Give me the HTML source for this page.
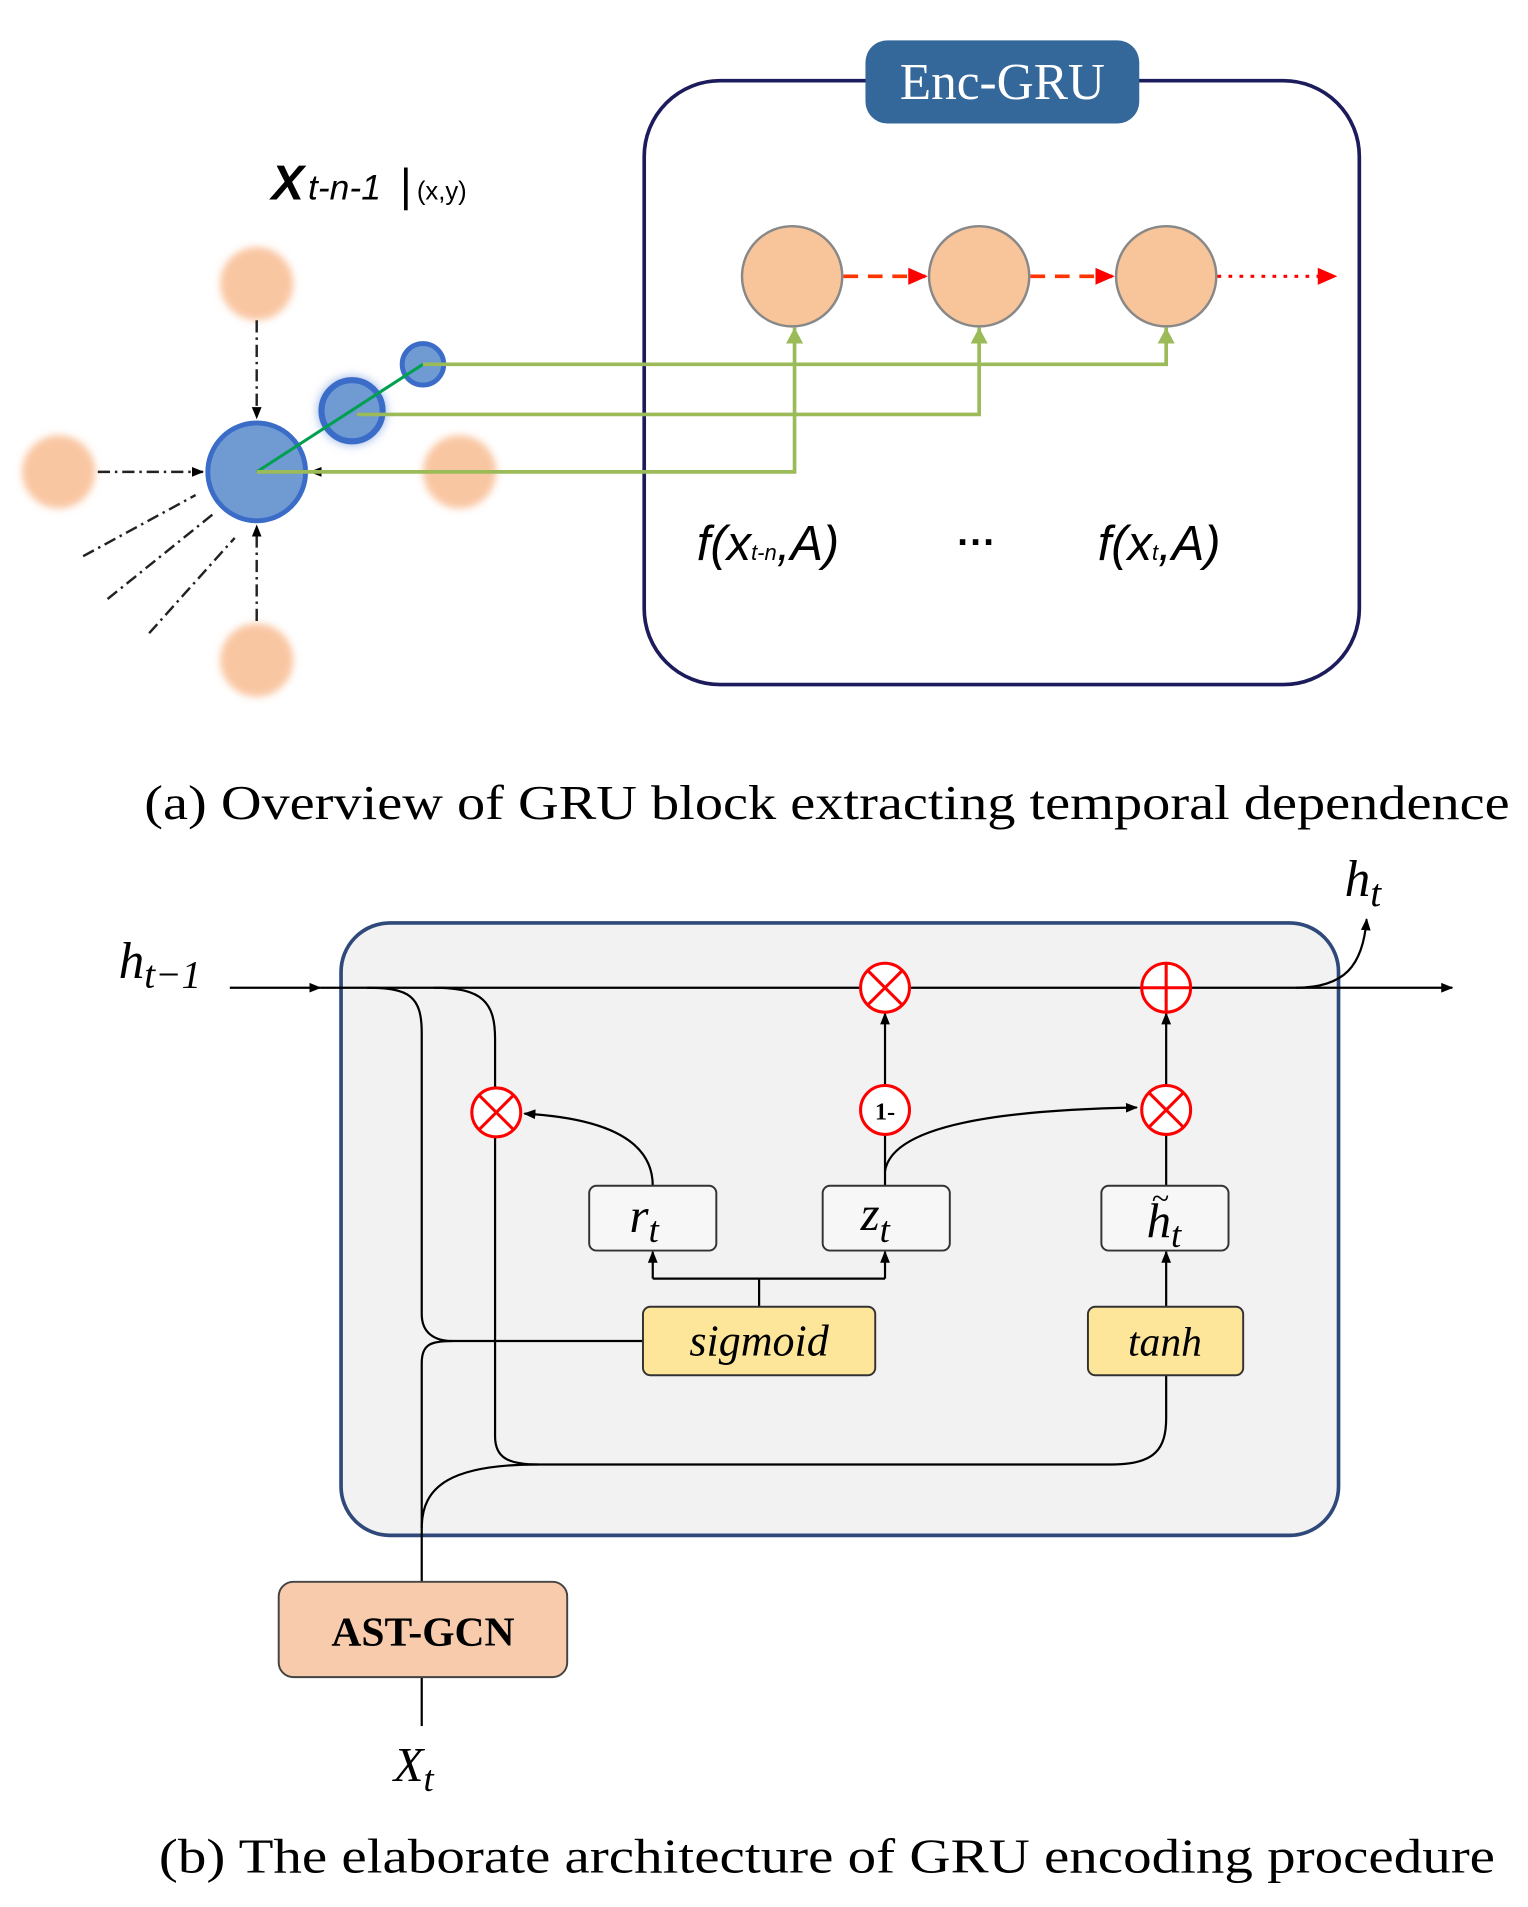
<!DOCTYPE html>
<html><head><meta charset="utf-8"><style>
html,body{margin:0;padding:0;background:#fff}
svg{display:block}
.ser{font-family:"Liberation Serif",serif}
.san{font-family:"Liberation Sans",sans-serif}
</style></head><body>
<svg width="1528" height="1907" viewBox="0 0 1250 1560" xmlns="http://www.w3.org/2000/svg">
<defs>
<filter id="bl" x="-50%" y="-50%" width="200%" height="200%"><feGaussianBlur stdDeviation="3"/></filter>
<filter id="bb" x="-50%" y="-50%" width="200%" height="200%"><feGaussianBlur stdDeviation="4"/></filter>
<marker id="ak" markerWidth="10" markerHeight="10" refX="9" refY="5" orient="auto" markerUnits="userSpaceOnUse"><path d="M0,1 L10,5 L0,9 Z" fill="#000"/></marker>
<marker id="ar" markerWidth="16" markerHeight="16" refX="14" refY="8" orient="auto" markerUnits="userSpaceOnUse"><path d="M0,1 L16,8 L0,15 Z" fill="#f00"/></marker>
<marker id="ag" markerWidth="14" markerHeight="14" refX="13" refY="7" orient="auto" markerUnits="userSpaceOnUse"><path d="M0,0 L13,7 L0,14 Z" fill="#9bbb59"/></marker>
</defs>
<!-- (a) -->
<rect x="527" y="66" width="585" height="494" rx="62" fill="none" stroke="#1c1c5c" stroke-width="3"/>
<rect x="708" y="33" width="224" height="68" rx="18" fill="#35689a"/>
<text x="820" y="81" text-anchor="middle" class="ser" font-size="42" fill="#fff">Enc-GRU</text>
<text x="222" y="163" class="san" font-style="italic" font-weight="bold" font-size="40">X</text>
<text x="252" y="163" class="san" font-style="italic" font-size="29">t-n-1</text>
<line x1="332" y1="137" x2="332" y2="172" stroke="#000" stroke-width="3"/>
<text x="341" y="163" class="san" font-size="21">(x,y)</text>

<g fill="#f8c49a" stroke="#888" stroke-width="2">
<circle cx="648" cy="226" r="41"/><circle cx="801" cy="226" r="41"/><circle cx="954" cy="226" r="41"/></g>
<g stroke="#ff3300" stroke-width="3" stroke-dasharray="12,8">
<line x1="690" y1="226" x2="757" y2="226" marker-end="url(#ar)"/>
<line x1="843" y1="226" x2="910" y2="226" marker-end="url(#ar)"/></g>
<line x1="996" y1="226" x2="1092" y2="226" stroke="#f00" stroke-width="2.5" stroke-dasharray="3,6" marker-end="url(#ar)"/>

<g fill="#f9c6a2" filter="url(#bl)">
<circle cx="210" cy="232" r="30"/><circle cx="48" cy="386" r="30"/><circle cx="376" cy="386" r="30"/><circle cx="210" cy="540" r="30"/></g>
<g stroke="#222" stroke-width="2" stroke-dasharray="10,4,2,4" fill="none">
<line x1="210" y1="262" x2="210" y2="342" marker-end="url(#ak)"/>
<line x1="80" y1="386" x2="166" y2="386" marker-end="url(#ak)"/>
<line x1="210" y1="508" x2="210" y2="430" marker-end="url(#ak)"/>
<line x1="346" y1="386" x2="254" y2="386" marker-end="url(#ak)"/>
<line x1="68" y1="455" x2="160" y2="405"/>
<line x1="88" y1="490" x2="175" y2="420"/>
<line x1="122" y1="518" x2="192" y2="440"/></g>
<circle cx="288" cy="336" r="28" fill="#9db8e6" filter="url(#bb)"/>
<circle cx="210" cy="386" r="40" fill="#6f9ad2" stroke="#3a6cc8" stroke-width="4"/>
<circle cx="288" cy="336" r="25" fill="#6f9ad2" stroke="#3a6cc8" stroke-width="5"/>
<circle cx="346" cy="298" r="17" fill="#6f9ad2" stroke="#3a6cc8" stroke-width="4"/>
<line x1="210" y1="386" x2="346" y2="298" stroke="#00a050" stroke-width="2.5"/>
<g stroke="#9bbb59" stroke-width="3" fill="none">
<polyline points="346,298 954,298 954,268" marker-end="url(#ag)"/>
<polyline points="292,339 801,339 801,268" marker-end="url(#ag)"/>
<polyline points="210,386 650,386 650,268" marker-end="url(#ag)"/></g>
<text x="570" y="458" class="san" font-style="italic" font-size="40">f(x<tspan font-size="18">t-n</tspan>,A)</text>
<text x="783" y="454" class="san" font-weight="bold" font-size="32">···</text>
<text x="898" y="458" class="san" font-style="italic" font-size="40">f(x<tspan font-size="18">t</tspan>,A)</text>
<text x="118" y="670" class="ser" font-size="40" textLength="1117" lengthAdjust="spacingAndGlyphs">(a) Overview of GRU block extracting temporal dependence</text>

<!-- (b) -->
<rect x="279" y="755" width="816" height="501" rx="40" fill="#f2f2f2" stroke="#2f4a7a" stroke-width="3"/>
<g stroke="#000" stroke-width="1.8" fill="none">
<line x1="188" y1="808" x2="262" y2="808" marker-end="url(#ak)"/>
<line x1="262" y1="808" x2="1188" y2="808" marker-end="url(#ak)"/>
<path d="M1060,808 C1100,808 1115,790 1118,752" marker-end="url(#ak)"/>
<path d="M300,808 C335,808 345,815 345,845 L345,1075 C345,1090 355,1097 370,1097 L526,1097"/>
<path d="M355,808 C395,808 405,820 405,850 L405,1175 C405,1192 415,1198 440,1198 L910,1198 C945,1198 954,1185 954,1160 L954,1125"/>
<path d="M345,1295 L345,1115 C345,1100 352,1097 370,1097"/>
<path d="M345,1250 C345,1215 370,1198 440,1198"/>
<line x1="345" y1="1372" x2="345" y2="1412"/>
<line x1="621" y1="1069" x2="621" y2="1046"/>
<line x1="534" y1="1046" x2="724" y2="1046"/>
<line x1="534" y1="1046" x2="534" y2="1024" marker-end="url(#ak)"/>
<line x1="724" y1="1046" x2="724" y2="1024" marker-end="url(#ak)"/>
<line x1="954" y1="1069" x2="954" y2="1024" marker-end="url(#ak)"/>
<line x1="954" y1="970" x2="954" y2="928"/>
<line x1="954" y1="888" x2="954" y2="829" marker-end="url(#ak)"/>
<line x1="724" y1="970" x2="724" y2="928"/>
<line x1="724" y1="888" x2="724" y2="829" marker-end="url(#ak)"/>
<path d="M724,958 C730,920 820,908 930,906" marker-end="url(#ak)"/>
<path d="M534,970 C534,935 500,915 429,911" marker-end="url(#ak)"/>
</g>
<g fill="#fff" stroke="#f00" stroke-width="2.5">
<circle cx="724" cy="808" r="20"/><circle cx="954" cy="808" r="20"/><circle cx="406" cy="910" r="20"/><circle cx="724" cy="908" r="20"/><circle cx="954" cy="908" r="20"/></g>
<g stroke="#f00" stroke-width="2.5">
<path d="M710,794 L738,822 M738,794 L710,822"/>
<path d="M392,896 L420,924 M420,896 L392,924"/>
<path d="M940,894 L968,922 M968,894 L940,922"/>
<path d="M954,788 L954,828 M934,808 L974,808"/></g>
<text x="724" y="916" text-anchor="middle" class="ser" font-weight="bold" font-size="20">1-</text>
<g fill="#f7f7f7" stroke="#333" stroke-width="1.6">
<rect x="482" y="970" width="104" height="53" rx="6"/>
<rect x="673" y="970" width="104" height="53" rx="6"/>
<rect x="901" y="970" width="104" height="53" rx="6"/></g>
<g fill="#fde699" stroke="#333" stroke-width="1.6">
<rect x="526" y="1069" width="190" height="56" rx="6"/>
<rect x="890" y="1069" width="127" height="56" rx="6"/></g>
<rect x="228" y="1294" width="236" height="78" rx="12" fill="#f7cbac" stroke="#444" stroke-width="1.6"/>
<g class="ser" font-style="italic">
<text x="515" y="1008" font-size="40">r<tspan font-size="30" dy="8">t</tspan></text>
<text x="704" y="1006" font-size="40">z<tspan font-size="30" dy="10">t</tspan></text>
<text x="938" y="1012" font-size="40">h<tspan font-size="30" dy="8">t</tspan></text>
<text x="942" y="989" font-size="26">~</text>
<text x="621" y="1109" text-anchor="middle" font-size="36">sigmoid</text>
<text x="953" y="1109" text-anchor="middle" font-size="34">tanh</text>
<text x="97" y="800" font-size="42">h<tspan font-size="32" dy="8">t−1</tspan></text>
<text x="1100" y="733" font-size="42">h<tspan font-size="32" dy="8">t</tspan></text>
<text x="322" y="1457" font-size="40">X<tspan font-size="30" dy="8">t</tspan></text>
</g>
<text x="346" y="1346" text-anchor="middle" class="ser" font-weight="bold" font-size="34">AST-GCN</text>
<text x="130" y="1532" class="ser" font-size="40" textLength="1093" lengthAdjust="spacingAndGlyphs">(b) The elaborate  architecture of GRU encoding procedure</text>
</svg>
</body></html>
